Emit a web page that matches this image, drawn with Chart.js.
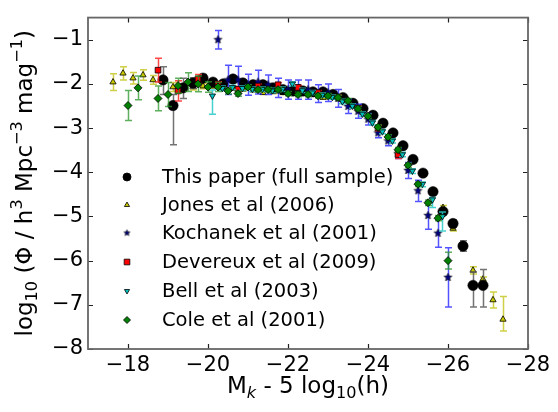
<!DOCTYPE html>
<html>
<head>
<meta charset="utf-8">
<script src="https://cdn.jsdelivr.net/npm/chart.js@4.4.1/dist/chart.umd.min.js"></script>
<style>
    html, body { margin: 0; padding: 0; background: #fff; }
    #wrap { width: 558px; height: 412px; }
</style>
</head>
<body>
<div id="wrap"><canvas id="lfChart" width="558" height="412"></canvas></div>
<script>
// This paper (full sample)
const paperMag = [-18.875, -19.125, -19.375, -19.625, -19.875, -20.125, -20.375, -20.625, -20.875, -21.125, -21.375, -21.625, -21.875, -22.125, -22.375, -22.625, -22.875, -23.125, -23.375, -23.625, -23.875, -24.125, -24.375, -24.625, -24.875, -25.125, -25.375, -25.625, -25.875, -26.125, -26.375, -26.625, -26.875];
const paperPhi = [-1.91, -2.49, -2.09, -1.98, -1.87, -1.96, -2.00, -1.89, -1.98, -2.02, -2.02, -2.09, -2.13, -2.16, -2.16, -2.18, -2.18, -2.24, -2.31, -2.44, -2.56, -2.71, -2.89, -3.11, -3.40, -3.71, -4.02, -4.44, -4.89, -5.16, -5.67, -6.56, -6.56];
const paperErrHi = [0.30, 0.25, 0.22, 0.12, 0.08, 0.06, 0.05, 0.05, 0.04, 0.04, 0.04, 0.03, 0.03, 0.03, 0.03, 0.03, 0.03, 0.03, 0.03, 0.03, 0.03, 0.03, 0.03, 0.03, 0.04, 0.04, 0.05, 0.05, 0.06, 0.08, 0.12, 0.30, 0.36];
const paperErrLo = [0.33, 0.89, 0.24, 0.12, 0.08, 0.06, 0.05, 0.05, 0.04, 0.04, 0.04, 0.03, 0.03, 0.03, 0.03, 0.03, 0.03, 0.03, 0.03, 0.03, 0.03, 0.03, 0.03, 0.03, 0.04, 0.04, 0.05, 0.05, 0.06, 0.08, 0.12, 0.49, 0.49];

// Jones et al (2006)
const jonesMag = [-17.625, -17.875, -18.125, -18.375, -18.625, -19.125, -19.375, -19.625, -19.875, -20.125, -20.375, -20.625, -20.875, -21.125, -21.375, -21.625, -21.875, -22.125, -22.375, -22.625, -22.875, -23.125, -23.375, -23.625, -23.875, -24.125, -24.375, -24.625, -24.875, -25.125, -25.375, -25.625, -25.875, -26.125, -26.625, -26.875, -27.125, -27.375];
const jonesPhi = [-1.96, -1.76, -1.87, -1.80, -1.91, -2.07, -2.08, -2.07, -2.05, -2.05, -2.08, -2.10, -2.12, -2.14, -2.20, -2.18, -2.20, -2.20, -2.22, -2.24, -2.31, -2.28, -2.34, -2.46, -2.58, -2.72, -2.90, -3.13, -3.42, -3.75, -4.05, -4.42, -4.80, -5.27, -6.22, -6.42, -6.89, -7.33];
const jonesErrHi = [0.19, 0.15, 0.13, 0.12, 0.10, 0.10, 0.08, 0.07, 0.06, 0.05, 0.04, 0.04, 0.04, 0.04, 0.04, 0.04, 0.04, 0.04, 0.04, 0.04, 0.04, 0.04, 0.04, 0.04, 0.04, 0.04, 0.04, 0.04, 0.04, 0.04, 0.04, 0.05, 0.05, 0.06, 0.08, 0.05, 0.18, 0.52];
const jonesErrLo = [0.19, 0.15, 0.13, 0.12, 0.10, 0.10, 0.08, 0.07, 0.06, 0.05, 0.04, 0.04, 0.04, 0.04, 0.04, 0.04, 0.04, 0.04, 0.04, 0.04, 0.04, 0.04, 0.04, 0.04, 0.04, 0.04, 0.04, 0.04, 0.04, 0.04, 0.04, 0.05, 0.05, 0.06, 0.08, 0.05, 0.18, 0.26];

// Kochanek et al (2001)
const kochMag = [-20.25, -20.5, -20.75, -21.0, -21.25, -21.5, -21.75, -22.0, -22.25, -22.5, -22.75, -23.0, -23.25, -23.5, -23.75, -24.0, -24.25, -24.5, -24.75, -25.0, -25.25, -25.5, -25.75, -26.0];
const kochPhi = [-1.00, -1.91, -1.91, -2.02, -1.96, -2.02, -2.09, -2.13, -2.13, -2.13, -2.22, -2.20, -2.33, -2.51, -2.62, -2.80, -3.11, -3.29, -3.58, -3.96, -4.42, -4.98, -5.38, -6.38];
const kochErr = [0.21, 0.33, 0.31, 0.24, 0.27, 0.22, 0.22, 0.22, 0.22, 0.22, 0.20, 0.20, 0.20, 0.16, 0.16, 0.13, 0.11, 0.11, 0.11, 0.18, 0.24, 0.31, 0.32, 0.67];

// Devereux et al (2009)
const devMag = [-18.75, -19.25, -19.75, -20.25, -20.75, -21.25, -21.75, -22.25, -22.75, -23.25, -23.75, -24.25, -24.75];
const devPhi = [-1.69, -2.16, -1.89, -2.02, -2.12, -2.05, -2.02, -2.08, -2.20, -2.30, -2.55, -3.00, -3.60];
const devErr = [0.27, 0.23, 0.10, 0.07, 0.06, 0.05, 0.05, 0.05, 0.05, 0.05, 0.05, 0.06, 0.09];

// Bell et al (2003)
const bellMag = [-20.11, -20.36, -20.61, -20.86, -21.11, -21.36, -21.61, -21.86, -22.11, -22.36, -22.61, -22.86, -23.11, -23.36, -23.61, -23.86, -24.11, -24.36, -24.61, -24.86, -25.11, -25.36, -25.61, -25.86];
const bellPhi = [-2.27, -2.10, -2.08, -2.10, -2.12, -2.12, -2.15, -2.12, -2.00, -2.15, -2.20, -2.25, -2.30, -2.40, -2.50, -2.68, -2.88, -3.08, -3.29, -3.60, -3.97, -4.27, -4.62, -5.00];
const bellErrHi = [0.13, 0.05, 0.05, 0.05, 0.05, 0.05, 0.05, 0.05, 0.05, 0.05, 0.05, 0.05, 0.05, 0.05, 0.05, 0.05, 0.05, 0.05, 0.05, 0.05, 0.05, 0.05, 0.05, 0.10];
const bellErrLo = [0.42, 0.05, 0.05, 0.05, 0.05, 0.05, 0.05, 0.05, 0.05, 0.05, 0.05, 0.05, 0.05, 0.05, 0.05, 0.05, 0.05, 0.05, 0.05, 0.05, 0.06, 0.06, 0.18, 0.33];

// Cole et al (2001)
const coleMag = [-18.0, -18.25, -18.75, -19.0, -19.25, -19.5, -19.75, -20.0, -20.25, -20.5, -20.75, -21.0, -21.25, -21.5, -21.75, -22.0, -22.25, -22.5, -22.75, -23.0, -23.25, -23.5, -23.75, -24.0, -24.25, -24.5, -24.75, -25.0, -25.25, -25.5, -25.75, -26.0];
const colePhi = [-2.49, -2.09, -2.33, -2.24, -2.04, -1.96, -2.00, -2.07, -2.07, -2.16, -2.22, -2.07, -2.13, -2.13, -2.13, -2.22, -2.24, -2.24, -2.27, -2.27, -2.31, -2.38, -2.56, -2.73, -2.98, -3.20, -3.49, -3.84, -4.27, -4.69, -5.04, -6.00];
const coleErr = [0.34, 0.27, 0.28, 0.27, 0.17, 0.21, 0.18, 0.12, 0.10, 0.07, 0.06, 0.05, 0.05, 0.05, 0.05, 0.05, 0.05, 0.05, 0.05, 0.05, 0.05, 0.05, 0.05, 0.05, 0.05, 0.05, 0.05, 0.05, 0.05, 0.06, 0.06, 0.19];

const seriesNames = ["This paper (full sample)", "Jones et al (2006)", "Kochanek et al (2001)", "Devereux et al (2009)", "Bell et al (2003)", "Cole et al (2001)"];
const xTicks = [-18, -20, -22, -24, -26, -28];
const yTicks = [-1, -2, -3, -4, -5, -6, -7, -8];

const FONT = "'DejaVu Sans', sans-serif";
Chart.defaults.font.family = FONT;

function toPoints(xs, ys) {
    return xs.map((x, i) => ({ x: x, y: ys[i] }));
}

function minusLabel(v) {
    return (v < 0 ? "\u2212" : "") + Math.abs(v);
}

// filled five point star used as marker image
function starImage(r, fill) {
    const size = Math.ceil(r * 2 + 4);
    const c = document.createElement("canvas");
    c.width = size;
    c.height = size;
    const g = c.getContext("2d");
    g.translate(size / 2, size / 2);
    g.beginPath();
    for (let i = 0; i < 10; i++) {
        const rr = i % 2 === 0 ? r : r * 0.45;
        const a = -Math.PI / 2 + i * Math.PI / 5;
        g.lineTo(rr * Math.cos(a), rr * Math.sin(a));
    }
    g.closePath();
    g.fillStyle = fill;
    g.fill();
    g.lineWidth = 0.6;
    g.strokeStyle = "#000";
    g.stroke();
    return c;
}

const starBig = starImage(4.2, "#000080");
const starSmall = starImage(3.2, "#000080");

const errorBars = {
    id: "errorBars",
    beforeDatasetDraw(chart, args) {
        const ds = chart.data.datasets[args.index];
        if (!ds.errHi) return;
        const xs = chart.scales.x;
        const ys = chart.scales.y;
        const ctx = chart.ctx;
        const cap = 3.5;
        ctx.save();
        ctx.strokeStyle = ds.errColor;
        ctx.lineWidth = 1.5;
        ds.data.forEach((p, i) => {
            const px = Math.round(xs.getPixelForValue(p.x)) + 0.5;
            const top = ys.getPixelForValue(p.y + ds.errHi[i]);
            const bot = ys.getPixelForValue(p.y - ds.errLo[i]);
            ctx.beginPath();
            ctx.moveTo(px, top);
            ctx.lineTo(px, bot);
            ctx.moveTo(px - cap, top);
            ctx.lineTo(px + cap, top);
            ctx.moveTo(px - cap, bot);
            ctx.lineTo(px + cap, bot);
            ctx.stroke();
        });
        ctx.restore();
    }
};

const frameTicks = {
    id: "frameTicks",
    afterDatasetsDraw(chart) {
        const { ctx, chartArea: a, scales } = chart;
        ctx.save();
        ctx.strokeStyle = "#222";
        ctx.lineWidth = 1.2;
        ctx.beginPath();
        xTicks.forEach(v => {
            const px = Math.round(scales.x.getPixelForValue(v)) + 0.5;
            ctx.moveTo(px, a.bottom);
            ctx.lineTo(px, a.bottom - 5);
            ctx.moveTo(px, a.top);
            ctx.lineTo(px, a.top + 5);
        });
        yTicks.forEach(v => {
            const py = Math.round(scales.y.getPixelForValue(v)) + 0.5;
            ctx.moveTo(a.left, py);
            ctx.lineTo(a.left + 5, py);
            ctx.moveTo(a.right, py);
            ctx.lineTo(a.right - 5, py);
        });
        ctx.stroke();
        ctx.strokeStyle = "#666";
        ctx.lineWidth = 1.8;
        ctx.strokeRect(a.left, a.top, a.right - a.left, a.bottom - a.top);
        ctx.restore();
    }
};

// text with sub/superscripts, centred on the current origin
function drawRich(ctx, parts, size) {
    let total = 0;
    const fontOf = p => (p.italic ? "italic " : "") + Math.round((p.sub || p.sup ? size * 0.7 : size) * 10) / 10 + "px " + FONT;
    parts.forEach(p => {
        ctx.font = fontOf(p);
        p.w = ctx.measureText(p.t).width;
        total += p.w;
    });
    let x = -total / 2;
    parts.forEach(p => {
        ctx.font = fontOf(p);
        const dy = p.sub ? size * 0.22 : p.sup ? -size * 0.42 : 0;
        ctx.fillText(p.t, x, dy);
        x += p.w;
    });
}

const axisTitles = {
    id: "axisTitles",
    afterDraw(chart) {
        const { ctx, chartArea: a } = chart;
        ctx.save();
        ctx.fillStyle = "#000";
        ctx.textBaseline = "alphabetic";
        ctx.textAlign = "left";
        ctx.save();
        ctx.translate((a.left + a.right) / 2, 393);
        drawRich(ctx, [
            { t: "M" }, { t: "k", sub: true, italic: true },
            { t: " - 5 log" }, { t: "10", sub: true }, { t: "(h)" }
        ], 23);
        ctx.restore();
        ctx.save();
        ctx.translate(32, (a.top + a.bottom) / 2);
        ctx.rotate(-Math.PI / 2);
        drawRich(ctx, [
            { t: "log" }, { t: "10", sub: true }, { t: " (\u03A6 / h" }, { t: "3", sup: true },
            { t: " Mpc" }, { t: "\u22123", sup: true }, { t: " mag" }, { t: "\u22121", sup: true }, { t: ")" }
        ], 23);
        ctx.restore();
        ctx.restore();
    }
};

const legendBox = {
    id: "legendBox",
    afterDraw(chart) {
        const ctx = chart.ctx;
        const rows = [177, 205, 233, 262, 291, 320];
        const marks = [
            { pointStyle: "circle", radius: 4, fill: "#000" },
            { pointStyle: "triangle", radius: 3, fill: "#c8c800" },
            { pointStyle: starSmall, radius: 3, fill: "#000080" },
            { pointStyle: "rect", radius: 4, fill: "#ff0000" },
            { pointStyle: "triangle", radius: 3, fill: "#00bfbf", rotation: 180 },
            { pointStyle: "rectRot", radius: 3.5, fill: "#008000" }
        ];
        ctx.save();
        seriesNames.forEach((name, i) => {
            const m = marks[i];
            ctx.fillStyle = m.fill;
            ctx.strokeStyle = "#000";
            ctx.lineWidth = 0.8;
            Chart.helpers.drawPoint(ctx, {
                pointStyle: m.pointStyle,
                radius: m.radius,
                rotation: m.rotation || 0,
                borderWidth: 0.8
            }, 127, rows[i]);
            ctx.fillStyle = "#000";
            ctx.font = "19.5px " + FONT;
            ctx.textBaseline = "middle";
            ctx.textAlign = "left";
            ctx.fillText(name, 162, rows[i] + 1);
        });
        ctx.restore();
    }
};

const ctx = document.getElementById("lfChart").getContext("2d");
new Chart(ctx, {
    type: "scatter",
    data: {
        datasets: [
            {
                label: seriesNames[0],
                data: toPoints(paperMag, paperPhi),
                errHi: paperErrHi, errLo: paperErrLo, errColor: "rgba(90,90,90,0.85)",
                pointStyle: "circle", pointRadius: 5.2,
                backgroundColor: "#000", borderColor: "#000", borderWidth: 0.5,
                order: 6
            },
            {
                label: seriesNames[1],
                data: toPoints(jonesMag, jonesPhi),
                errHi: jonesErrHi, errLo: jonesErrLo, errColor: "rgba(200,200,40,0.85)",
                pointStyle: "triangle", pointRadius: 3.6,
                backgroundColor: "#c8c800", borderColor: "#000", borderWidth: 0.8,
                order: 7
            },
            {
                label: seriesNames[2],
                data: toPoints(kochMag, kochPhi),
                errHi: kochErr, errLo: kochErr, errColor: "rgba(40,40,255,0.8)",
                pointStyle: starBig, pointRadius: 4,
                backgroundColor: "#000080", borderColor: "#000", borderWidth: 0.5,
                order: 4
            },
            {
                label: seriesNames[3],
                data: toPoints(devMag, devPhi),
                errHi: devErr, errLo: devErr, errColor: "rgba(255,40,40,0.85)",
                pointStyle: "rect", pointRadius: 4,
                backgroundColor: "#ff0000", borderColor: "#000", borderWidth: 0.8,
                order: 3
            },
            {
                label: seriesNames[4],
                data: toPoints(bellMag, bellPhi),
                errHi: bellErrHi, errLo: bellErrLo, errColor: "rgba(40,200,200,0.85)",
                pointStyle: "triangle", rotation: 180, pointRadius: 3.6,
                backgroundColor: "#00bfbf", borderColor: "#000", borderWidth: 0.8,
                order: 2
            },
            {
                label: seriesNames[5],
                data: toPoints(coleMag, colePhi),
                errHi: coleErr, errLo: coleErr, errColor: "rgba(40,150,40,0.75)",
                pointStyle: "rectRot", pointRadius: 4,
                backgroundColor: "#008000", borderColor: "#000", borderWidth: 0.8,
                order: 1
            }
        ]
    },
    options: {
        responsive: false,
        animation: false,
        events: [],
        layout: {
            padding: { top: 9, right: 30, left: 0, bottom: 0 }
        },
        plugins: {
            legend: { display: false },
            tooltip: { enabled: false }
        },
        scales: {
            x: {
                type: "linear",
                min: -28,
                max: -17,
                reverse: true,
                afterFit: s => { s.height = 63; },
                grid: { display: false, drawTicks: false },
                border: { display: false },
                ticks: {
                    stepSize: 2,
                    includeBounds: false,
                    padding: 4,
                    color: "#000",
                    maxRotation: 0,
                    font: { size: 21 },
                    callback: minusLabel
                }
            },
            y: {
                type: "linear",
                min: -8,
                max: -0.5,
                afterFit: s => { s.width = 88; },
                grid: { display: false, drawTicks: false },
                border: { display: false },
                ticks: {
                    stepSize: 1,
                    includeBounds: false,
                    padding: 5,
                    color: "#000",
                    font: { size: 21 },
                    callback: minusLabel
                }
            }
        }
    },
    plugins: [errorBars, frameTicks, axisTitles, legendBox]
});
</script>
</body>
</html>
